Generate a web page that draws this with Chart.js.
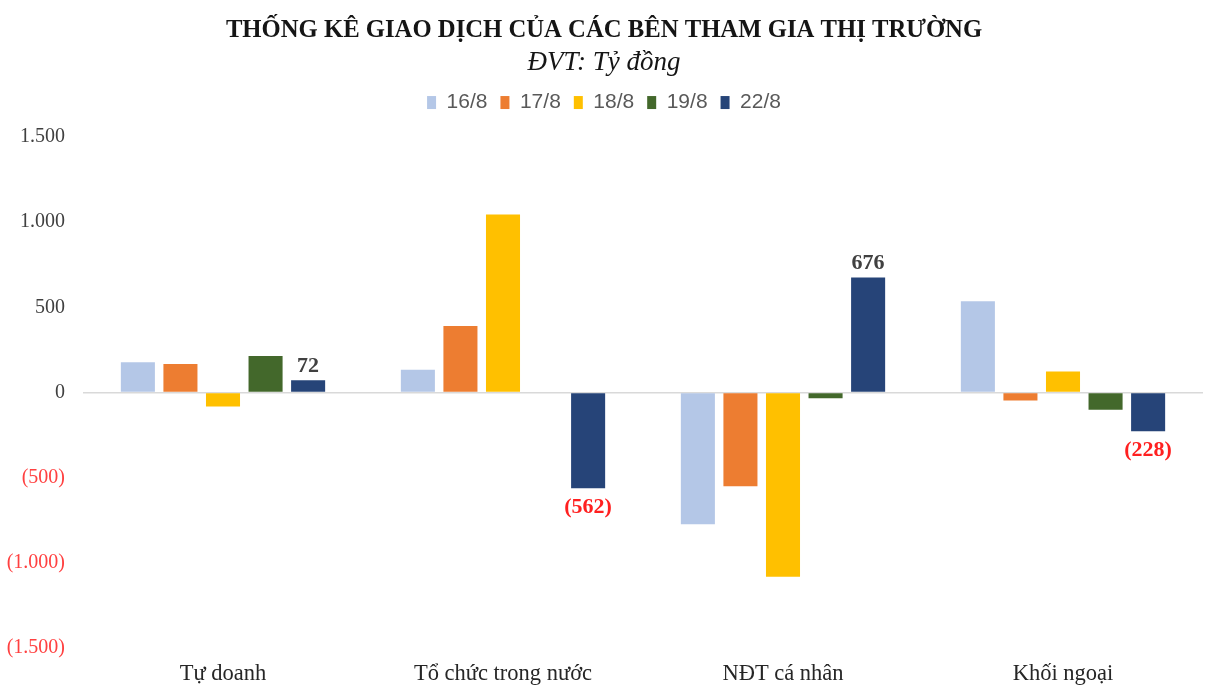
<!DOCTYPE html>
<html>
<head>
<meta charset="utf-8">
<script src="https://cdn.jsdelivr.net/npm/chart.js@4"></script>
<style>
  html, body { margin: 0; padding: 0; background: #fff; overflow: hidden; }
  #wrap { width: 1220px; height: 694px; }
  canvas { display: block; }
</style>
</head>
<body>
<div id="wrap"><canvas id="chart" width="1220" height="694"></canvas></div>
<script>
// categories and series (ty dong)
var categories = ["Tự doanh", "Tổ chức trong nước", "NĐT cá nhân", "Khối ngoại"];
var seriesNames = ["16/8", "17/8", "18/8", "19/8", "22/8"];
var d16 = [177, 133, -774, 536];
var d17 = [168, 390, -550, -47];
var d18 = [-82, 1045, -1082, 123];
var d19 = [215, 0, -33, -101];
var d22 = [72, -562, 676, -228];
var colors = ["#B4C7E7", "#ED7D31", "#FFC000", "#43682B", "#264478"];
var yTicks = [-1500, -1000, -500, 0, 500, 1000, 1500];

var serif = "'Liberation Serif', 'DejaVu Serif', serif";
var sans = "'Liberation Sans', Arial, sans-serif";

function fmt(v) {
    var s = Math.abs(v).toString().replace(/\B(?=(\d{3})+(?!\d))/g, ".");
    return v < 0 ? "(" + s + ")" : s;
}

var allData = [d16, d17, d18, d19, d22];
var datasets = seriesNames.map(function (name, i) {
    return {
        label: name,
        data: allData[i],
        backgroundColor: colors[i],
        borderWidth: 0,
        categoryPercentage: 0.76,
        barPercentage: 0.8
    };
});

// labels only on the last series
var lastLabels = {
    id: "lastLabels",
    afterDatasetsDraw: function (chart) {
        var ctx = chart.ctx;
        var meta = chart.getDatasetMeta(datasets.length - 1);
        ctx.save();
        ctx.font = "bold 22px " + serif;
        ctx.textAlign = "center";
        meta.data.forEach(function (bar, i) {
            var v = d22[i];
            if (v >= 0) {
                ctx.fillStyle = "#404040";
                ctx.textBaseline = "bottom";
                ctx.fillText(fmt(v), bar.x, bar.y - 3);
            } else {
                ctx.fillStyle = "#FF2020";
                ctx.textBaseline = "top";
                ctx.fillText(fmt(v), bar.x, bar.y + 8);
            }
        });
        ctx.restore();
    }
};

var legendGap = {
    id: "legendGap",
    beforeInit: function (chart) {
        var fit = chart.legend.fit;
        chart.legend.fit = function () {
            fit.bind(chart.legend)();
            this.height += 14;
        };
    }
};

var chart = new Chart("chart", {
    type: "bar",
    data: { labels: categories, datasets: datasets },
    plugins: [lastLabels, legendGap],
    options: {
        responsive: false,
        animation: false,
        layout: { padding: { left: 5, right: 17, top: 0, bottom: 8 } },
        plugins: {
            title: {
                display: true,
                text: "THỐNG KÊ GIAO DỊCH CỦA CÁC BÊN THAM GIA THỊ TRƯỜNG",
                color: "#151515",
                font: { family: serif, size: 24.7, weight: "bold" },
                padding: { top: 16, bottom: 0 }
            },
            subtitle: {
                display: true,
                text: "ĐVT: Tỷ đồng",
                color: "#151515",
                font: { family: serif, size: 27, style: "italic" },
                padding: { top: 1, bottom: 0 }
            },
            legend: {
                display: true,
                labels: {
                    color: "#595959",
                    font: { family: sans, size: 21 },
                    boxWidth: 9,
                    boxHeight: 13,
                    padding: 13
                }
            },
            tooltip: { enabled: false }
        },
        scales: {
            x: {
                afterFit: function (scale) { scale.height = 38; },
                grid: { display: false },
                border: { display: false },
                ticks: {
                    color: "#262626",
                    font: { family: serif, size: 22.5 },
                    padding: 5
                }
            },
            y: {
                min: -1500,
                max: 1500,
                afterBuildTicks: function (scale) {
                    scale.ticks = yTicks.map(function (v) { return { value: v }; });
                },
                afterFit: function (scale) { scale.width = 78; },
                border: { display: false },
                grid: {
                    drawTicks: false,
                    color: function (c) { return c.tick && c.tick.value === 0 ? "#D9D9D9" : "rgba(0,0,0,0)"; },
                    lineWidth: 1.5
                },
                ticks: {
                    padding: 18,
                    font: { family: serif, size: 20 },
                    color: function (c) { return c.tick.value < 0 ? "#FF4040" : "#404040"; },
                    callback: function (v) { return fmt(v); }
                }
            }
        }
    }
});
</script>
</body>
</html>
